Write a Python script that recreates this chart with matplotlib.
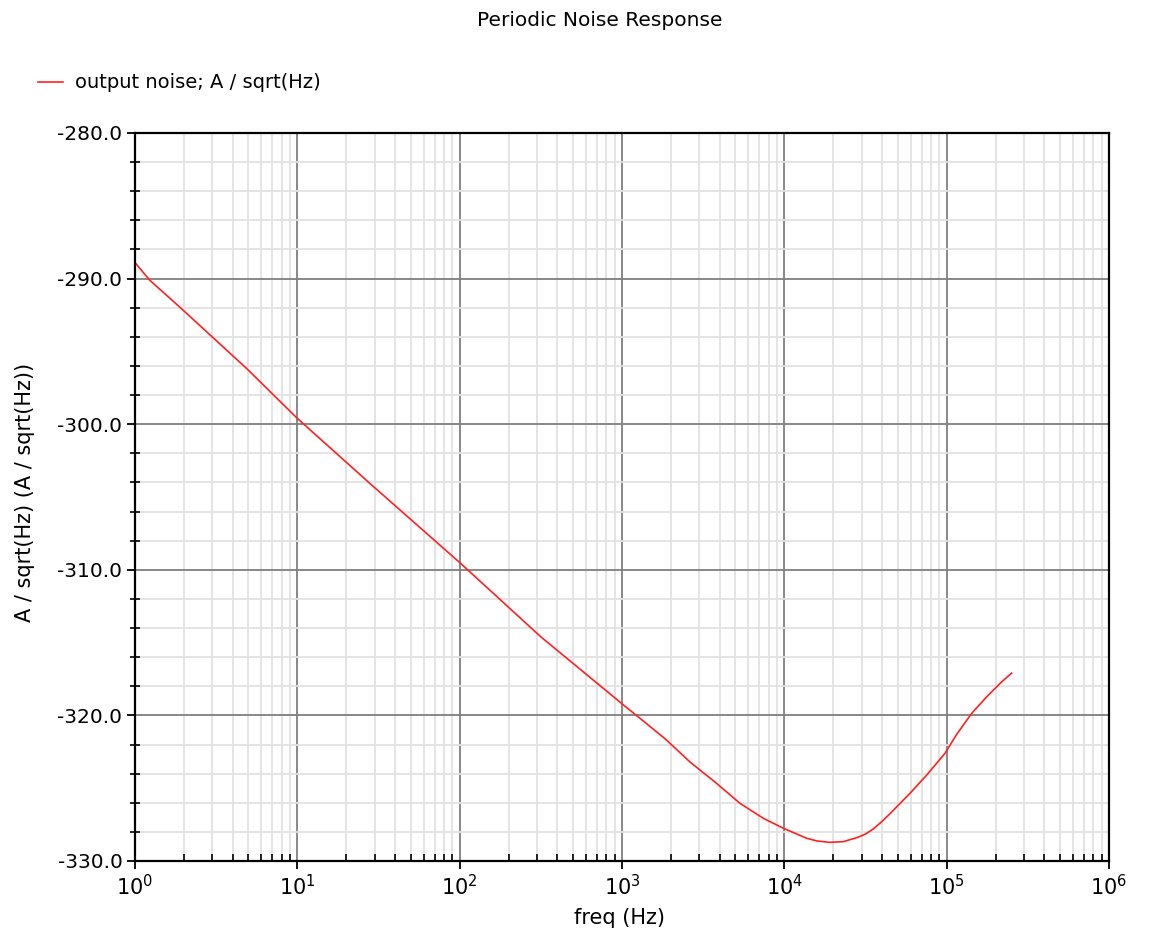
import matplotlib
matplotlib.use("Agg")
import matplotlib.pyplot as plt
from matplotlib.ticker import (FixedLocator, LogLocator, MultipleLocator,
                               FuncFormatter, LogFormatterSciNotation, NullFormatter)

# Output noise spectral density of the periodic noise analysis
freq_hz = [1.0, 1.23, 1.905, 4.9, 10.0, 28.2, 100.0, 316.0, 1000.0, 1291.0,
           1841.0, 2624.0, 3828.0, 5333.0, 7430.0, 9863.0, 13740.0, 15850.0,
           19050.0, 23070.0, 27930.0, 31620.0, 35320.0, 39810.0, 44770.0,
           59430.0, 75340.0, 97720.0, 115300.0, 142600.0, 176600.0,
           218300.0, 251200.0]
noise_db = [-288.9, -290.1, -292.0, -296.2, -299.6, -304.1, -309.5, -314.6,
            -319.2, -320.2, -321.6, -323.2, -324.67, -326.04, -327.07,
            -327.75, -328.44, -328.62, -328.72, -328.67, -328.4, -328.15,
            -327.8, -327.3, -326.75, -325.35, -324.1, -322.6, -321.3,
            -319.86, -318.72, -317.69, -317.1]

decades = [1e0, 1e1, 1e2, 1e3, 1e4, 1e5, 1e6]

title = "Periodic Noise Response"
legend_label = "output noise; A / sqrt(Hz)"
x_label = "freq (Hz)"
y_label = "A / sqrt(Hz) (A / sqrt(Hz))"

plt.rcParams["font.family"] = ["DejaVu Sans"]

fig = plt.figure(figsize=(11.49, 9.36), dpi=100)
ax = fig.add_axes([135 / 1149, 75 / 936, 974 / 1149, 728 / 936])

line, = ax.plot(freq_hz, noise_db, color="#ff2020", linewidth=1.2)

ax.set_xscale("log")
ax.set_xlim(decades[0], decades[-1])
ax.set_ylim(-330, -280)

ax.xaxis.set_major_locator(FixedLocator(decades))
ax.xaxis.set_major_formatter(LogFormatterSciNotation(base=10))
ax.xaxis.set_minor_locator(LogLocator(base=10, subs=range(2, 10), numticks=100))
ax.xaxis.set_minor_formatter(NullFormatter())
ax.yaxis.set_major_locator(MultipleLocator(10))
ax.yaxis.set_minor_locator(MultipleLocator(2))
ax.yaxis.set_major_formatter(FuncFormatter(lambda v, p: f"{v:.1f}"))

ax.grid(which="major", color="#7f7f7f", linewidth=1.3)
ax.grid(which="minor", color="#e2e2e2", linewidth=1.3)
ax.set_axisbelow(True)

for side in ax.spines.values():
    side.set_color("black")
    side.set_linewidth(1.6)

ax.tick_params(axis="both", which="major", direction="out",
               length=6, width=1.3, color="black")
ax.tick_params(axis="y", which="major", labelsize=14.5, pad=3)
ax.tick_params(axis="x", which="major", labelsize=15, pad=3)
ax.tick_params(axis="x", which="minor", direction="in", length=5, width=1.2)
ax.tick_params(axis="y", which="minor", direction="inout", length=7, width=1.2)

fig.text(600 / 1149, 1 - 21 / 936, title, ha="center", va="center", fontsize=14.5)
fig.text(620 / 1149, 1 - 918 / 936, x_label, ha="center", va="center", fontsize=15)
fig.text(25 / 1149, 1 - 492 / 936, y_label, ha="center", va="center",
         rotation=90, fontsize=15)

fig.legend([line], [legend_label], loc="center left",
           bbox_to_anchor=(30 / 1149, 1 - 83 / 936), frameon=False,
           fontsize=14, handlelength=1.3, handletextpad=0.6, borderaxespad=0)

fig.savefig("out.png", dpi=100, facecolor="white")
